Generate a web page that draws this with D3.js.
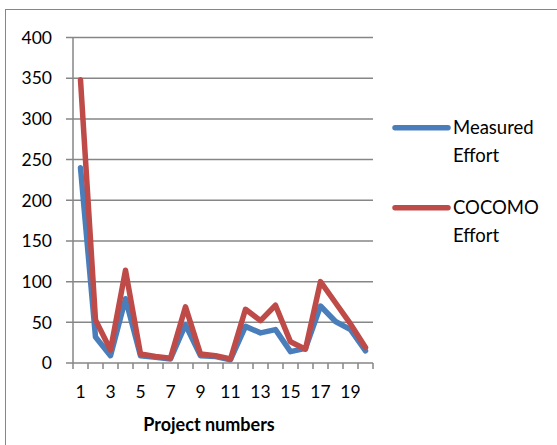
<!DOCTYPE html>
<html>
<head>
<meta charset="utf-8">
<script src="https://cdn.jsdelivr.net/npm/d3@7"></script>
<style>
  html, body { margin: 0; padding: 0; background: #fff; }
  svg { display: block; font-family: Lato, "Open Sans", sans-serif; }
</style>
</head>
<body>
<svg id="chart" width="557" height="445"></svg>
<script>
// Project numbers 1..20
const projects = d3.range(1, 21);
// Effort per project
const measuredEffort = [240, 32, 9, 79, 9, 7, 5, 47, 9, 8, 4, 45, 37, 41, 14, 18, 70, 51, 41, 15];
const cocomoEffort   = [348, 53, 16, 114, 11, 8, 6, 69, 11, 9, 5, 66, 52, 71, 26, 17, 100, 74, 48, 19];
const yTicks = [0, 50, 100, 150, 200, 250, 300, 350, 400];
const xTickLabels = [1, 3, 5, 7, 9, 11, 13, 15, 17, 19];
const seriesNames = [["Measured", "Effort"], ["COCOMO", "Effort"]];
const seriesColors = ["#4a7ebb", "#be4b48"];

const svg = d3.select("#chart");
const plotLeft = 73, plotRight = 373, plotTop = 37.5, plotBottom = 363;
const grey = "#868686";

// outer frame
svg.append("rect")
  .attr("x", 5.5).attr("y", 9.5)
  .attr("width", 600).attr("height", 500)
  .attr("fill", "none").attr("stroke", grey).attr("stroke-width", 1);

const x = d3.scaleBand().domain(projects).range([plotLeft, plotRight]).paddingInner(0).paddingOuter(0);
const y = d3.scaleLinear().domain([0, 400]).range([plotBottom, plotTop]);
const cx = d => x(d) + x.bandwidth() / 2;

// horizontal gridlines with left-side ticks
svg.append("g").selectAll("line").data(yTicks).join("line")
  .attr("x1", plotLeft - 7).attr("x2", plotRight)
  .attr("y1", d => y(d)).attr("y2", d => y(d))
  .attr("stroke", grey).attr("stroke-width", 1.5);

// y axis line
svg.append("line")
  .attr("x1", plotLeft).attr("x2", plotLeft)
  .attr("y1", plotTop).attr("y2", plotBottom)
  .attr("stroke", grey).attr("stroke-width", 1.5);

// y tick labels
svg.append("g").selectAll("text").data(yTicks).join("text")
  .attr("x", 52).attr("y", d => y(d))
  .attr("dy", "0.36em")
  .attr("text-anchor", "end")
  .attr("font-size", 17.5).attr("fill", "#000")
  .text(d => d);

// x axis tick marks at category boundaries
const boundaries = projects.map(p => x(p)).concat([plotRight]);
svg.append("g").selectAll("line").data(boundaries).join("line")
  .attr("x1", d => d).attr("x2", d => d)
  .attr("y1", plotBottom).attr("y2", plotBottom + 6)
  .attr("stroke", grey).attr("stroke-width", 1.5);

// x tick labels
svg.append("g").selectAll("text").data(xTickLabels).join("text")
  .attr("x", d => cx(d)).attr("y", 398)
  .attr("text-anchor", "middle")
  .attr("font-size", 17.5).attr("fill", "#000")
  .text(d => d);

// x axis title
svg.append("text")
  .attr("x", 209).attr("y", 431)
  .attr("text-anchor", "middle")
  .attr("font-size", 18).attr("font-weight", "bold").attr("fill", "#000")
  .text("Project numbers");

// series lines
const line = d3.line().x((d, i) => cx(projects[i])).y(d => y(d));
[measuredEffort, cocomoEffort].forEach((vals, k) => {
  svg.append("path")
    .datum(vals)
    .attr("d", line)
    .attr("fill", "none")
    .attr("stroke", seriesColors[k])
    .attr("stroke-width", 5.5)
    .attr("stroke-linejoin", "round")
    .attr("stroke-linecap", "round");
});

// legend
const legendY = [127.7, 207.7];
seriesNames.forEach((name, k) => {
  const g = svg.append("g");
  g.append("line")
    .attr("x1", 395).attr("x2", 448)
    .attr("y1", legendY[k]).attr("y2", legendY[k])
    .attr("stroke", seriesColors[k]).attr("stroke-width", 5.5)
    .attr("stroke-linecap", "round");
  name.forEach((t, j) => {
    g.append("text")
      .attr("x", 453).attr("y", legendY[k] + 6 + j * 28)
      .attr("font-size", 18.5).attr("fill", "#000")
      .text(t);
  });
});
</script>
</body>
</html>
